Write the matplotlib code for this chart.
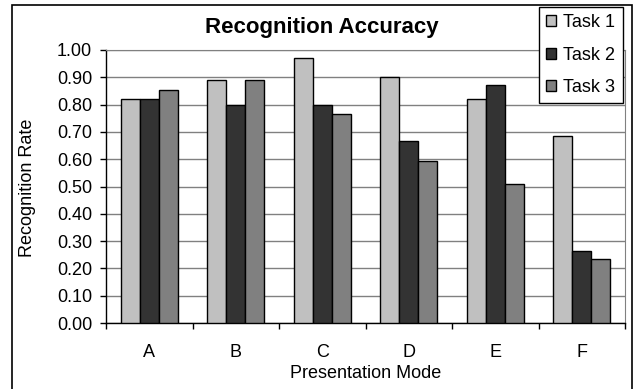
import numpy as np
import matplotlib
matplotlib.use("Agg")
from matplotlib import pyplot as plt
from matplotlib.patches import Rectangle

modes = ["A", "B", "C", "D", "E", "F"]
task1 = [0.82, 0.89, 0.97, 0.90, 0.82, 0.685]
task2 = [0.82, 0.80, 0.80, 0.665, 0.87, 0.265]
task3 = [0.855, 0.89, 0.765, 0.595, 0.51, 0.235]
series = ["Task 1", "Task 2", "Task 3"]
colors = ["#C0C0C0", "#333333", "#808080"]

plt.rcParams['font.family'] = ['Liberation Sans', 'DejaVu Sans']

fig = plt.figure(figsize=(6.34, 3.89), dpi=100)
ax = fig.add_axes([106 / 634, 1 - 323 / 389, 519 / 634, 273 / 389])

x = np.arange(len(modes))
w = 0.22
for i, (vals, name, c) in enumerate(zip([task1, task2, task3], series, colors)):
    ax.bar(x + (i - 1) * w, vals, w, color=c, edgecolor="black", linewidth=1.0,
           label=name, zorder=3)

ax.set_xlim(-0.5, len(modes) - 0.5)
ax.set_ylim(0, 1.0)
ax.set_yticks(np.arange(0, 1.01, 0.1))
ax.set_yticklabels(["%.2f" % v for v in np.arange(0, 1.01, 0.1)], fontsize=13)
ax.set_xticks(x)
ax.set_xticklabels(modes, fontsize=13)
ax.set_xticks(np.arange(-0.5, len(modes), 1), minor=True)
ax.tick_params(axis="x", which="major", length=0, pad=15)
ax.tick_params(axis="x", which="minor", length=4, width=1, direction="out")
ax.tick_params(axis="y", length=4, width=1, direction="out", pad=6)
ax.yaxis.grid(True, color="#808080", linewidth=1, zorder=0)
ax.set_axisbelow(True)

for s in ["top", "right"]:
    ax.spines[s].set_color("#808080")
for s in ["left", "bottom"]:
    ax.spines[s].set_color("black")
    ax.spines[s].set_linewidth(1)

ax.set_xlabel("Presentation Mode", fontsize=13, labelpad=3)
fig.text(28 / 634, 1 - 188 / 389, "Recognition Rate", fontsize=13,
         rotation=90, ha="center", va="center")

fig.text(322 / 634, 1 - 27 / 389, "Recognition Accuracy", fontsize=16,
         fontweight="bold", ha="center", va="center")

leg = ax.legend(loc="upper left", bbox_to_anchor=(539 / 634, 1 - 7 / 389),
                bbox_transform=fig.transFigure, fontsize=13, frameon=True,
                fancybox=False, handlelength=0.55, handleheight=0.55,
                handletextpad=0.4, labelspacing=0.85, borderpad=0.4,
                borderaxespad=0)
leg.get_frame().set_edgecolor("black")
leg.get_frame().set_linewidth(1)
leg.get_frame().set_alpha(1)

fig.patches.append(Rectangle((12 / 634, -0.02), 620 / 634, 1.02 - 5 / 389,
                             transform=fig.transFigure, fill=False,
                             edgecolor="black", linewidth=1.2))

fig.savefig("out.png", dpi=100)
